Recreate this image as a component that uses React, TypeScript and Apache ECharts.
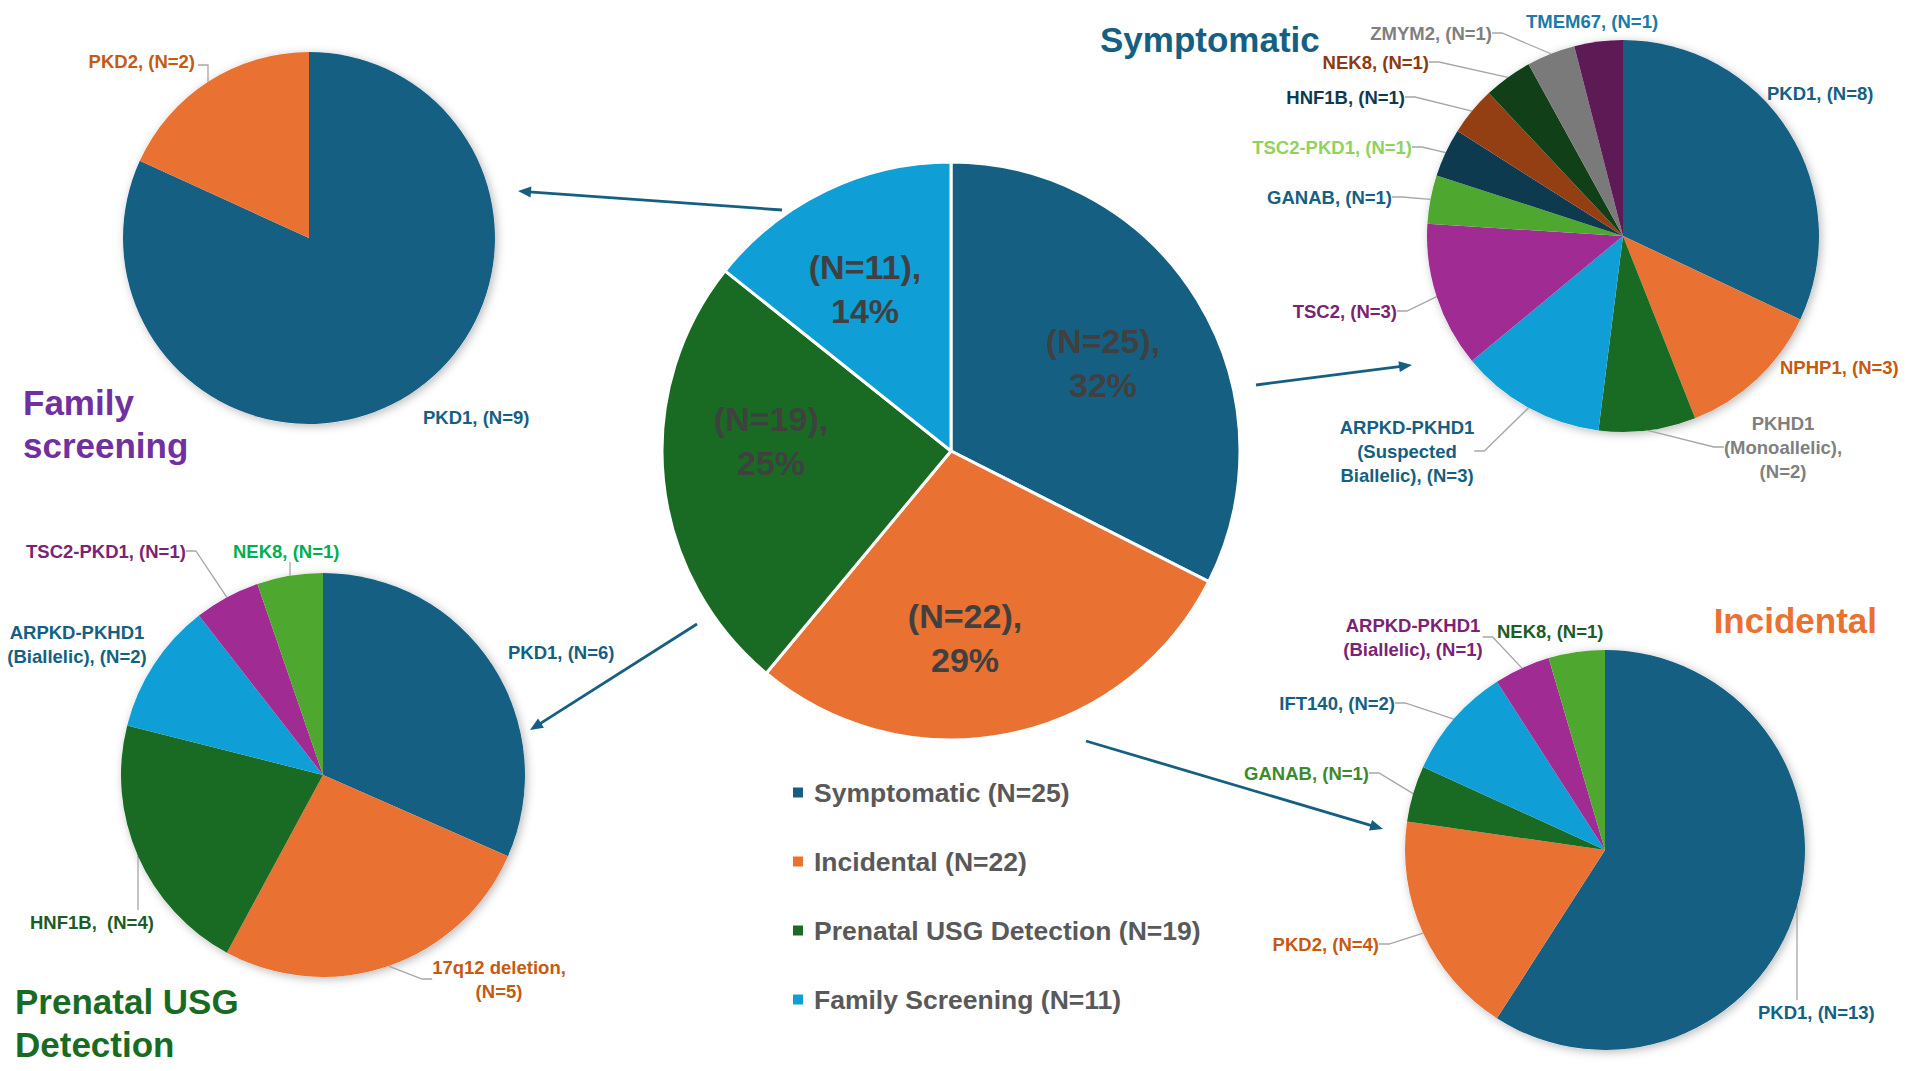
import { useEffect, useRef } from 'react';
import * as echarts from 'echarts';

const FONT = '"Liberation Sans", Arial, sans-serif';

// ---------- data ----------
const mainCategories = ['Symptomatic', 'Incidental', 'Prenatal USG Detection', 'Family Screening'];
const mainValues = [25, 22, 19, 11];

const symptomaticGenes = ['PKD1', 'NPHP1', 'PKHD1\n(Monoallelic)', 'ARPKD-PKHD1\n(Suspected\nBiallelic)', 'TSC2', 'GANAB', 'TSC2-PKD1', 'HNF1B', 'NEK8', 'ZMYM2', 'TMEM67'];
const symptomaticValues = [8, 3, 2, 3, 3, 1, 1, 1, 1, 1, 1];
const symptomaticSeparators = [' ', ' ', '\n', ' ', ' ', ' ', ' ', ' ', ' ', ' ', ' '];

const familyGenes = ['PKD1', 'PKD2'];
const familyValues = [9, 2];
const familySeparators = [' ', ' '];

const prenatalGenes = ['PKD1', '17q12 deletion', 'HNF1B', 'ARPKD-PKHD1\n(Biallelic)', 'TSC2-PKD1', 'NEK8'];
const prenatalValues = [6, 5, 4, 2, 1, 1];
const prenatalSeparators = [' ', '\n', '  ', ' ', ' ', ' '];

const incidentalGenes = ['PKD1', 'PKD2', 'GANAB', 'IFT140', 'ARPKD-PKHD1\n(Biallelic)', 'NEK8'];
const incidentalValues = [13, 4, 1, 2, 1, 1];
const incidentalSeparators = [' ', ' ', ' ', ' ', ' ', ' '];

const panelTitles = ['Symptomatic', 'Family\nscreening', 'Prenatal USG\nDetection', 'Incidental'];

// ---------- styles / layout ----------
const C = {
  blue: '#156082', orange: '#E97132', green: '#196B24', sky: '#0F9ED5', purple: '#A02B93', lime: '#4EA72E',
  navy: '#0E3A50', brown: '#943E13', forest: '#113F17', gray: '#7A7A7A', plum: '#5E1A55',
};
const LBL = {
  blue: '#156082', rust: '#C55A11', gray: '#7F7F7F', magenta: '#7B2372', lightGreen: '#8ED35D', navy: '#0E3A50',
  brown: '#8B3A12', midBlue: '#1A7AA8', darkGreen: '#1E5C25', brightGreen: '#00B050', grassGreen: '#3B8A2B',
};

const MAIN = {
  center: [951, 451],
  r: 289,
  labelPos: [[1103, 363], [965, 638], [771, 441], [865, 289]],
};

type Align = 'left' | 'right' | 'center';
interface PieCfg {
  center: number[]; r: number; genes: string[]; values: number[]; seps: string[];
  sliceColors: string[]; labelColors: string[]; leaders: boolean[]; labelPos: [number, number, Align][];
  // vertical/elbow leaders: dataIndex -> [labelEndX, labelEndY, elbowX, elbowY, edgeX, side(+1 bottom / -1 top)]
  customLeaders?: Record<number, number[]>;
}

const pies: PieCfg[] = [
  {
    center: [1623, 236], r: 196, genes: symptomaticGenes, values: symptomaticValues, seps: symptomaticSeparators,
    sliceColors: [C.blue, C.orange, C.green, C.sky, C.purple, C.lime, C.navy, C.brown, C.forest, C.gray, C.plum],
    labelColors: [LBL.blue, LBL.rust, LBL.gray, LBL.blue, LBL.magenta, LBL.blue, LBL.lightGreen, LBL.navy, LBL.brown, LBL.gray, LBL.midBlue],
    leaders: [false, false, true, true, true, true, true, true, true, true, false],
    labelPos: [
      [1767, 93, 'left'], [1780, 367, 'left'], [1783, 447, 'center'], [1407, 451, 'center'], [1397, 311, 'right'],
      [1392, 197, 'right'], [1412, 147, 'right'], [1405, 97, 'right'], [1429, 62, 'right'], [1492, 33, 'right'], [1526, 21, 'left'],
    ],
  },
  {
    center: [309, 238], r: 186, genes: familyGenes, values: familyValues, seps: familySeparators,
    sliceColors: [C.blue, C.orange],
    labelColors: [LBL.blue, LBL.rust],
    leaders: [false, true],
    labelPos: [[423, 417, 'left'], [195, 61, 'right']],
    customLeaders: { 1: [198, 65, 208, 65, 208, -1] },
  },
  {
    center: [323, 775], r: 202, genes: prenatalGenes, values: prenatalValues, seps: prenatalSeparators,
    sliceColors: [C.blue, C.orange, C.green, C.sky, C.purple, C.lime],
    labelColors: [LBL.blue, LBL.rust, LBL.darkGreen, LBL.blue, LBL.magenta, LBL.brightGreen],
    leaders: [false, true, true, false, true, true],
    labelPos: [[508, 652, 'left'], [499, 979, 'center'], [30, 922, 'left'], [77, 644, 'center'], [26, 551, 'left'], [233, 551, 'left']],
    customLeaders: { 2: [138, 910, 138, 885, 138, 1], 5: [290, 562, 290, 568, 290, -1] },
  },
  {
    center: [1605, 850], r: 200, genes: incidentalGenes, values: incidentalValues, seps: incidentalSeparators,
    sliceColors: [C.blue, C.orange, C.green, C.sky, C.purple, C.lime],
    labelColors: [LBL.blue, LBL.rust, LBL.grassGreen, LBL.blue, LBL.magenta, LBL.darkGreen],
    leaders: [true, true, true, true, true, false],
    labelPos: [[1758, 1012, 'left'], [1379, 944, 'right'], [1369, 773, 'right'], [1395, 703, 'right'], [1413, 637, 'center'], [1497, 631, 'left']],
    customLeaders: { 0: [1797, 1000, 1797, 960, 1797, 1] },
  },
];

const titleStyles: any[] = [
  { color: '#156082', left: 1100, top: 18 },
  { color: '#7030A0', left: 23, top: 381 },
  { color: '#196B24', left: 15, top: 980 },
  { color: '#E97132', right: 33, top: 599 },
];

const arrowSpecs = [
  [782, 210, 518, 191],
  [1256, 385, 1412, 365],
  [697, 624, 530, 730],
  [1086, 741, 1383, 829],
];

function arrowElements(a: number[]) {
  const [x1, y1, x2, y2] = a;
  const dx = x2 - x1, dy = y2 - y1;
  const len = Math.hypot(dx, dy);
  const ux = dx / len, uy = dy / len;
  const head = 13, half = 5.5;
  const bx = x2 - ux * head, by = y2 - uy * head;
  return [
    { type: 'line', shape: { x1, y1, x2: bx + ux * 2, y2: by + uy * 2 }, style: { stroke: C.blue, lineWidth: 2.8 }, silent: true },
    {
      type: 'polygon',
      shape: { points: [[x2, y2], [bx - uy * half, by + ux * half], [bx + uy * half, by - ux * half]] },
      style: { fill: C.blue }, silent: true,
    },
  ];
}

export default function App() {
  const ref = useRef<HTMLDivElement>(null);

  useEffect(() => {
    if (!ref.current) return;
    const chart = echarts.init(ref.current, undefined, { renderer: 'svg' });

    const mainNames = mainCategories.map((c, i) => `${c} (N=${mainValues[i]})`);
    const mainColors = [C.blue, C.orange, C.green, C.sky];

    const series: any[] = [];

    series.push({
      type: 'pie',
      name: 'main',
      center: MAIN.center,
      radius: MAIN.r,
      startAngle: 90,
      clockwise: true,
      percentPrecision: 0,
      silent: true,
      z: 3,
      data: mainNames.map((n, i) => ({ name: n, value: mainValues[i], itemStyle: { color: mainColors[i] } })),
      itemStyle: { borderColor: '#ffffff', borderWidth: 3 },
      label: {
        show: true,
        position: 'inside',
        formatter: '(N={c}),\n{d}%',
        color: '#404040',
        fontFamily: FONT,
        fontSize: 34,
        fontWeight: 'bold',
        lineHeight: 44,
        align: 'center',
      },
      labelLine: { show: false },
      labelLayout: (p: any) => {
        const lp = MAIN.labelPos[p.dataIndex];
        return { x: lp[0], y: lp[1], align: 'center', verticalAlign: 'middle' };
      },
      emphasis: { disabled: true },
    });

    pies.forEach((cfg, k) => {
      // soft shadow disc behind each small pie
      series.push({
        type: 'pie',
        name: `shadow${k}`,
        center: cfg.center,
        radius: cfg.r,
        silent: true,
        z: 1,
        data: [{ value: 1, name: `bg${k}` }],
        itemStyle: { color: '#ffffff', shadowBlur: 10, shadowColor: 'rgba(0,0,0,0.28)', shadowOffsetX: 2, shadowOffsetY: 2 },
        label: { show: false },
        labelLine: { show: false },
        emphasis: { disabled: true },
      });
      series.push({
        type: 'pie',
        name: `pie${k}`,
        center: cfg.center,
        radius: cfg.r,
        startAngle: 90,
        clockwise: true,
        silent: true,
        z: 2,
        avoidLabelOverlap: false,
        data: cfg.genes.map((g, i) => ({
          name: g,
          value: cfg.values[i],
          itemStyle: { color: cfg.sliceColors[i] },
          label: { color: cfg.labelColors[i] },
          labelLine: { show: cfg.leaders[i] },
        })),
        label: {
          show: true,
          position: 'outside',
          formatter: (p: any) => `${cfg.genes[p.dataIndex]},${cfg.seps[p.dataIndex]}(N=${p.value})`,
          fontFamily: FONT,
          fontSize: 18.5,
          fontWeight: 'bold',
          lineHeight: 24,
          align: 'center',
        },
        labelLine: {
          show: true,
          length: 8,
          length2: 10,
          lineStyle: { color: '#A6A6A6', width: 1.3 },
        },
        labelLayout: (p: any) => {
          const lp = cfg.labelPos[p.dataIndex];
          const out: any = { x: lp[0], y: lp[1], align: lp[2], verticalAlign: 'middle' };
          const cl = cfg.customLeaders && cfg.customLeaders[p.dataIndex];
          if (cl) {
            const [lx, ly, ex, ey, edgeX, side] = cl;
            const dx = edgeX - cfg.center[0];
            const edgeY = cfg.center[1] + side * Math.sqrt(Math.max(0, cfg.r * cfg.r - dx * dx));
            out.labelLinePoints = [[edgeX, edgeY], [ex, ey], [lx, ly]];
          }
          return out;
        },
        emphasis: { disabled: true },
      });
    });

    const graphics: any[] = [];
    arrowSpecs.forEach((a) => graphics.push(...arrowElements(a)));

    chart.setOption({
      animation: false,
      backgroundColor: '#ffffff',
      title: panelTitles.map((t, i) => ({
        text: t,
        ...(titleStyles[i].left != null ? { left: titleStyles[i].left } : { right: titleStyles[i].right }),
        top: titleStyles[i].top,
        padding: 0,
        textStyle: { color: titleStyles[i].color, fontSize: 35, fontWeight: 'bold', fontFamily: FONT, lineHeight: 43 },
      })),
      legend: {
        data: mainNames,
        orient: 'vertical',
        left: 791,
        top: 779,
        padding: 0,
        itemWidth: 12,
        itemHeight: 12,
        itemGap: 42,
        icon: 'rect',
        selectedMode: false,
        textStyle: { color: '#595959', fontSize: 26.5, fontWeight: 'bold', fontFamily: FONT, padding: [0, 0, 0, 5] },
      },
      graphic: graphics,
      series,
    });

    return () => chart.dispose();
  }, []);

  return (
    <div
      ref={ref}
      style={{ position: 'absolute', left: 0, top: 0, width: 1910, height: 1071, background: '#ffffff' }}
    />
  );
}
